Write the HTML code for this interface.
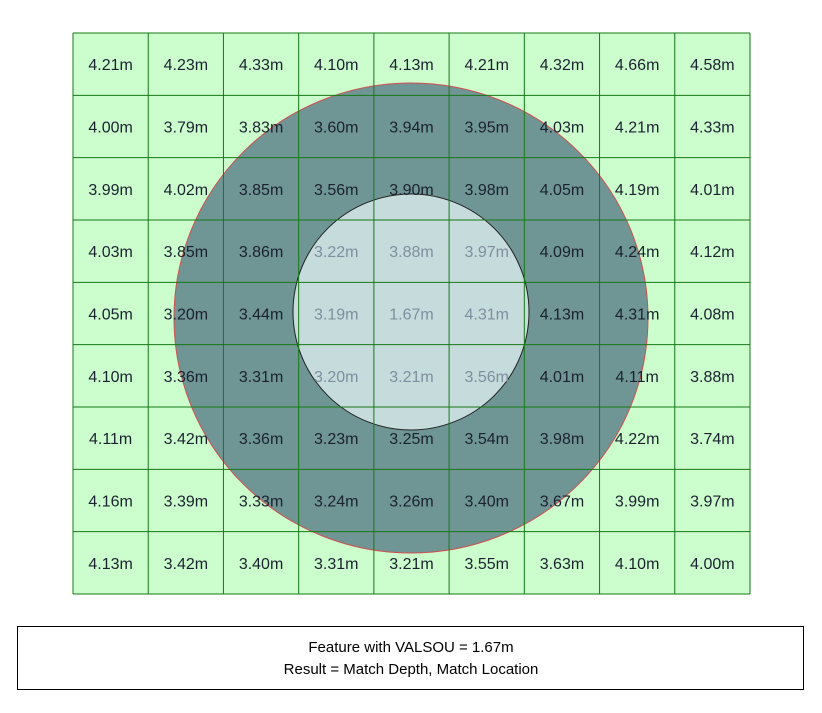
<!DOCTYPE html>
<html><head><meta charset="utf-8"><style>
body{margin:0;background:#fff;width:822px;height:708px;overflow:hidden;font-family:"Liberation Sans",sans-serif}
</style></head><body>
<svg id="chart" width="822" height="708" xmlns="http://www.w3.org/2000/svg"></svg>
<script>
const rows = [
 ["4.21m","4.23m","4.33m","4.10m","4.13m","4.21m","4.32m","4.66m","4.58m"],
 ["4.00m","3.79m","3.83m","3.60m","3.94m","3.95m","4.03m","4.21m","4.33m"],
 ["3.99m","4.02m","3.85m","3.56m","3.90m","3.98m","4.05m","4.19m","4.01m"],
 ["4.03m","3.85m","3.86m","3.22m","3.88m","3.97m","4.09m","4.24m","4.12m"],
 ["4.05m","3.20m","3.44m","3.19m","1.67m","4.31m","4.13m","4.31m","4.08m"],
 ["4.10m","3.36m","3.31m","3.20m","3.21m","3.56m","4.01m","4.11m","3.88m"],
 ["4.11m","3.42m","3.36m","3.23m","3.25m","3.54m","3.98m","4.22m","3.74m"],
 ["4.16m","3.39m","3.33m","3.24m","3.26m","3.40m","3.67m","3.99m","3.97m"],
 ["4.13m","3.42m","3.40m","3.31m","3.21m","3.55m","3.63m","4.10m","4.00m"]
];
const gx0=73,gx1=750,gy0=33,gy1=594,n=9;
const cw=(gx1-gx0)/n,ch=(gy1-gy0)/n;
const svg=document.getElementById('chart');
const NS="http://www.w3.org/2000/svg";
function mk(t,a){const e=document.createElementNS(NS,t);for(const k in a)e.setAttribute(k,a[k]);svg.appendChild(e);return e;}
const bg=mk('rect',{x:gx0,y:gy0,width:gx1-gx0,height:gy1-gy0,fill:'#ccfdcc'});


const outer=mk('ellipse',{cx:411,cy:318,rx:237,ry:235,fill:'#6f9595',stroke:'#d05050','stroke-width':1});


const inner=mk('circle',{cx:411,cy:312,r:118,fill:'#c6dbdb',stroke:'#222','stroke-width':1});


for(let i=0;i<=n;i++){
 const v=mk('line',{x1:gx0+i*cw,x2:gx0+i*cw,y1:gy0,y2:gy1,stroke:'#157a15','stroke-width':1});
 
 
 const h=mk('line',{x1:gx0,x2:gx1,y1:gy0+i*ch,y2:gy0+i*ch,stroke:'#157a15','stroke-width':1});
 
 
}
rows.forEach((r,ri)=>r.forEach((val,ci)=>{
 const cx=gx0+(ci+0.5)*cw,cy=gy0+(ri+0.5)*ch;
 const d=Math.hypot(cx-411,cy-312);
 const t=mk('text',{x:cx,y:cy+6,'text-anchor':'middle','font-size':16,fill:d<118?'#7f8e9e':'#1a2230'});
 t.textContent=val;
 
 
}));
const box=mk('rect',{x:17.5,y:626.5,width:786,height:63,fill:'#fff',stroke:'#000','stroke-width':1});


const l1=mk('text',{x:411,y:652,'text-anchor':'middle','font-size':15,fill:'#000'});
l1.textContent='Feature with VALSOU = 1.67m';


const l2=mk('text',{x:411,y:674,'text-anchor':'middle','font-size':15,fill:'#000'});
l2.textContent='Result = Match Depth, Match Location';


</script>
</body></html>
